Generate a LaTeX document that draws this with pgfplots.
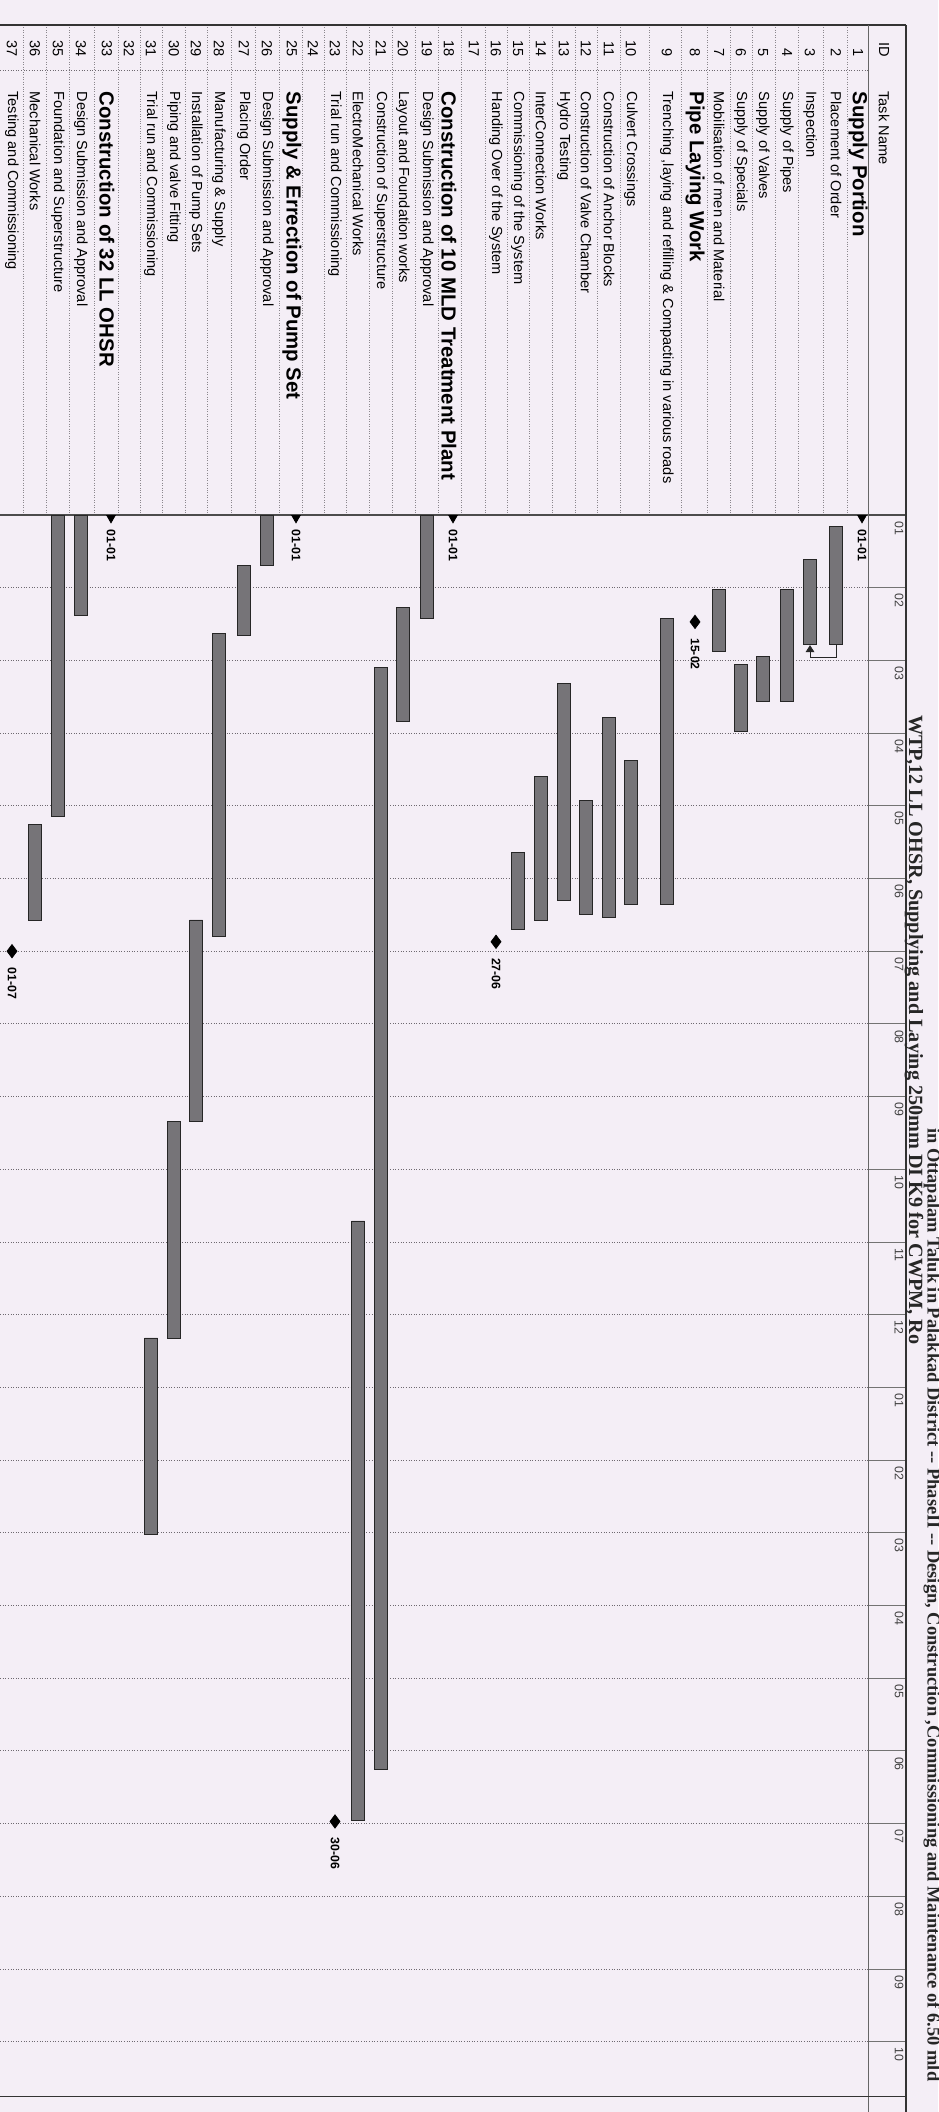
\documentclass[border=0pt]{standalone}
\usepackage{pgfplots}
\pgfplotsset{compat=1.18}
\usepackage{pgfplotstable}
\usepackage{fontspec}
\setmainfont{Liberation Sans}
\newfontfamily\titlefont{Liberation Serif}
\usetikzlibrary{arrows.meta}
\definecolor{paper}{RGB}{244,238,246}
\definecolor{barfill}{RGB}{118,116,120}
\definecolor{gridc}{RGB}{110,105,112}

% bars: row position (x), start month, duration (months from 01-01)
\pgfplotstableread{
pos start dur
836 0.16 1.62
810 0.61 1.17
787 1.02 1.55
763 1.95 0.62
741 2.05 0.92
719 1.02 0.86
667 1.42 3.94
631 3.37 1.99
609 2.78 2.75
586 3.93 1.57
564 2.32 2.98
541 3.60 1.97
518 4.64 1.06
427 0.00 1.42
403 1.27 1.57
381 2.10 15.15
358 9.71 8.24
267 0.00 0.70
244 0.69 0.96
219 1.63 4.17
196 5.57 2.77
174 8.34 2.98
151 11.32 2.70
81 0.00 1.38
58 0.00 4.14
35 4.26 1.31
}\bars

\pgfplotstableread{
pos m
695 1.47
496 5.87
335 17.97
12 6.00
}\miles

\pgfplotstableread{
pos m
862 0.04
453 0.04
296 0.04
111 0.04
}\summ

\pgfplotsset{pageax/.style={at={(0,0)}, anchor=south west, scale only axis,
  width=18.76cm, height=42.24cm, xmin=0, xmax=938, ymin=-7.084, ymax=21.967,
  y dir=reverse, hide axis, clip=false}}

\newcommand\trow[3]{\node[idn] at (axis cs:#1,-6.30) {#2};\node[tn] at (axis cs:#1,-5.83) {#3};}
\newcommand\brow[3]{\node[idn] at (axis cs:#1,-6.30) {#2};\node[tnb] at (axis cs:#1,-5.83) {#3};}

\begin{document}
\begin{tikzpicture}[
  idn/.style={rotate=-90, anchor=east, inner sep=0pt, font=\fontsize{8.3}{10}\selectfont},
  tn/.style={rotate=-90, anchor=west, inner sep=0pt, font=\fontsize{8.3}{10}\selectfont},
  tnb/.style={rotate=-90, anchor=west, inner sep=0pt, font=\fontsize{11.6}{13}\selectfont\bfseries},
  ml/.style={rotate=-90, anchor=west, inner sep=0pt, font=\fontsize{7}{8}\selectfont, text=black!75},
  dl/.style={rotate=-90, anchor=west, inner sep=0pt, font=\fontsize{7}{8}\selectfont\bfseries},
  tl/.style={rotate=-90, inner sep=0pt, text=black!85},
]
\path[use as bounding box, fill=paper] (0,0) rectangle (18.76cm,42.24cm);

\begin{axis}[pageax]
% month grid lines
\pgfplotsinvokeforeach{1,...,21}{
  \draw[gridc, densely dotted, line width=0.5pt] (axis cs:0,#1) -- (axis cs:868,#1);
  \draw[black!55, line width=0.5pt] (axis cs:868,#1) -- (axis cs:906,#1);
}
% table row separators
\pgfplotsinvokeforeach{847,823,798.5,775,752,730,707,681,649,620,597.5,575,552.5,529.5,507,485,461.5,438,415,392,369.5,346.5,324,302.5,279.5,255.5,231.5,207.5,185,162.5,140,118,94,69.5,46.5,23.5}{
  \draw[gridc!80, densely dotted, line width=0.4pt] (axis cs:#1,-6.74) -- (axis cs:#1,0);
}
\draw[gridc, densely dotted, line width=0.5pt] (axis cs:0,-6.12) -- (axis cs:868,-6.12);
% frame
\draw[black!80, line width=0.8pt] (axis cs:0,-6.74) -- (axis cs:906,-6.74);
\draw[black!70, line width=0.7pt] (axis cs:0,0) -- (axis cs:906,0);
\draw[black!60, line width=0.5pt] (axis cs:868,-6.74) -- (axis cs:868,21.967);
\draw[black!80, line width=0.8pt] (axis cs:906,-6.74) -- (axis cs:906,21.967);
\draw[black!80, line width=0.8pt] (axis cs:0,21.75) -- (axis cs:906,21.75);

% header
\node[idn] at (axis cs:884,-6.30) {ID};
\node[tn] at (axis cs:884,-5.83) {Task Name};

% table rows
\brow{858}{1}{Supply Portion}
\trow{836}{2}{Placement of Order}
\trow{810}{3}{Inspection}
\trow{787}{4}{Supply of Pipes}
\trow{763}{5}{Supply of Valves}
\trow{741}{6}{Supply of Specials}
\trow{719}{7}{Mobilisation of men and Material}
\brow{695}{8}{Pipe Laying Work}
\trow{667}{9}{Trenching ,laying and refilling \& Compacting in various roads}
\trow{631}{10}{Culvert Crossings}
\trow{609}{11}{Construction of Anchor Blocks}
\trow{586}{12}{Construction of Valve Chamber}
\trow{564}{13}{Hydro Testing}
\trow{541}{14}{InterConnection Works}
\trow{518}{15}{Commissioning of the System}
\trow{496}{16}{Handing Over of the System}
\trow{474}{17}{}
\brow{449}{18}{Construction of 10 MLD Treatment Plant}
\trow{427}{19}{Design Submission and Approval}
\trow{403}{20}{Layout and Foundation works}
\trow{381}{21}{Construction of Superstructure}
\trow{358}{22}{ElectroMechanical Works}
\trow{335}{23}{Trial run and Commissioning}
\trow{313}{24}{}
\brow{292}{25}{Supply \& Errection of Pump Set}
\trow{267}{26}{Design Submission and Approval}
\trow{244}{27}{Placing Order}
\trow{219}{28}{Manufacturing \& Supply}
\trow{196}{29}{Installation of Pump Sets}
\trow{174}{30}{Piping and valve Fitting}
\trow{151}{31}{Trial run and Commissioning}
\trow{129}{32}{}
\brow{107}{33}{Construction of 32 LL OHSR}
\trow{81}{34}{Design Submission and Approval}
\trow{58}{35}{Foundation and Superstructure}
\trow{35}{36}{Mechanical Works}
\trow{12}{37}{Testing and Commissioning}

% timescale labels
\node[ml] at (axis cs:899,0.08) {01};
\node[ml] at (axis cs:899,1.08) {02};
\node[ml] at (axis cs:899,2.08) {03};
\node[ml] at (axis cs:899,3.08) {04};
\node[ml] at (axis cs:899,4.08) {05};
\node[ml] at (axis cs:899,5.08) {06};
\node[ml] at (axis cs:899,6.08) {07};
\node[ml] at (axis cs:899,7.08) {08};
\node[ml] at (axis cs:899,8.08) {09};
\node[ml] at (axis cs:899,9.08) {10};
\node[ml] at (axis cs:899,10.08) {11};
\node[ml] at (axis cs:899,11.08) {12};
\node[ml] at (axis cs:899,12.08) {01};
\node[ml] at (axis cs:899,13.08) {02};
\node[ml] at (axis cs:899,14.08) {03};
\node[ml] at (axis cs:899,15.08) {04};
\node[ml] at (axis cs:899,16.08) {05};
\node[ml] at (axis cs:899,17.08) {06};
\node[ml] at (axis cs:899,18.08) {07};
\node[ml] at (axis cs:899,19.08) {08};
\node[ml] at (axis cs:899,20.08) {09};
\node[ml] at (axis cs:899,21.08) {10};

% title (two lines, baseline positioned)
\node[tl, anchor=base west, font=\titlefont\bfseries\fontsize{11.5}{14}\selectfont] at (axis cs:909,2.75) {WTP,12 LL OHSR, Supplying and Laying 250mm DI K9 for CWPM, Ro};
\node[tl, anchor=base east, font=\titlefont\bfseries\fontsize{10.5}{13}\selectfont] at (axis cs:927.5,21.55) {in Ottapalam Taluk in Palakkad District -- PhaseII -- Design, Construction ,Commissioning and Maintenance of 6.50 mld};

% milestones and summary markers
\addplot[only marks, mark=diamond*, mark size=3.8pt, mark options={fill=black, draw=black}] table[x=pos, y=m] {\miles};
\addplot[only marks, mark=triangle*, mark size=2.8pt, mark options={rotate=180, fill=black, draw=black}] table[x=pos, y=m] {\summ};
\node[dl] at (axis cs:862,0.20) {01-01};
\node[dl] at (axis cs:453,0.20) {01-01};
\node[dl] at (axis cs:296,0.20) {01-01};
\node[dl] at (axis cs:111,0.20) {01-01};
\node[dl] at (axis cs:695,1.69) {15-02};
\node[dl] at (axis cs:496,6.09) {27-06};
\node[dl] at (axis cs:335,18.19) {30-06};
\node[dl] at (axis cs:12,6.22) {01-07};
% link Placement of Order -> Inspection
\draw[black!85, line width=0.5pt, -{Triangle[length=4pt,width=5pt]}] (axis cs:836,1.78) -- (axis cs:836,1.96) -- (axis cs:810,1.96) -- (axis cs:810,1.79);
\end{axis}

\begin{axis}[pageax, ybar stacked, bar width=0.26cm]
\addplot[draw=none, fill=none] table[x=pos, y=start] {\bars};
\addplot[fill=barfill, draw=black!85, line width=0.5pt] table[x=pos, y=dur] {\bars};
\end{axis}
\end{tikzpicture}
\end{document}
